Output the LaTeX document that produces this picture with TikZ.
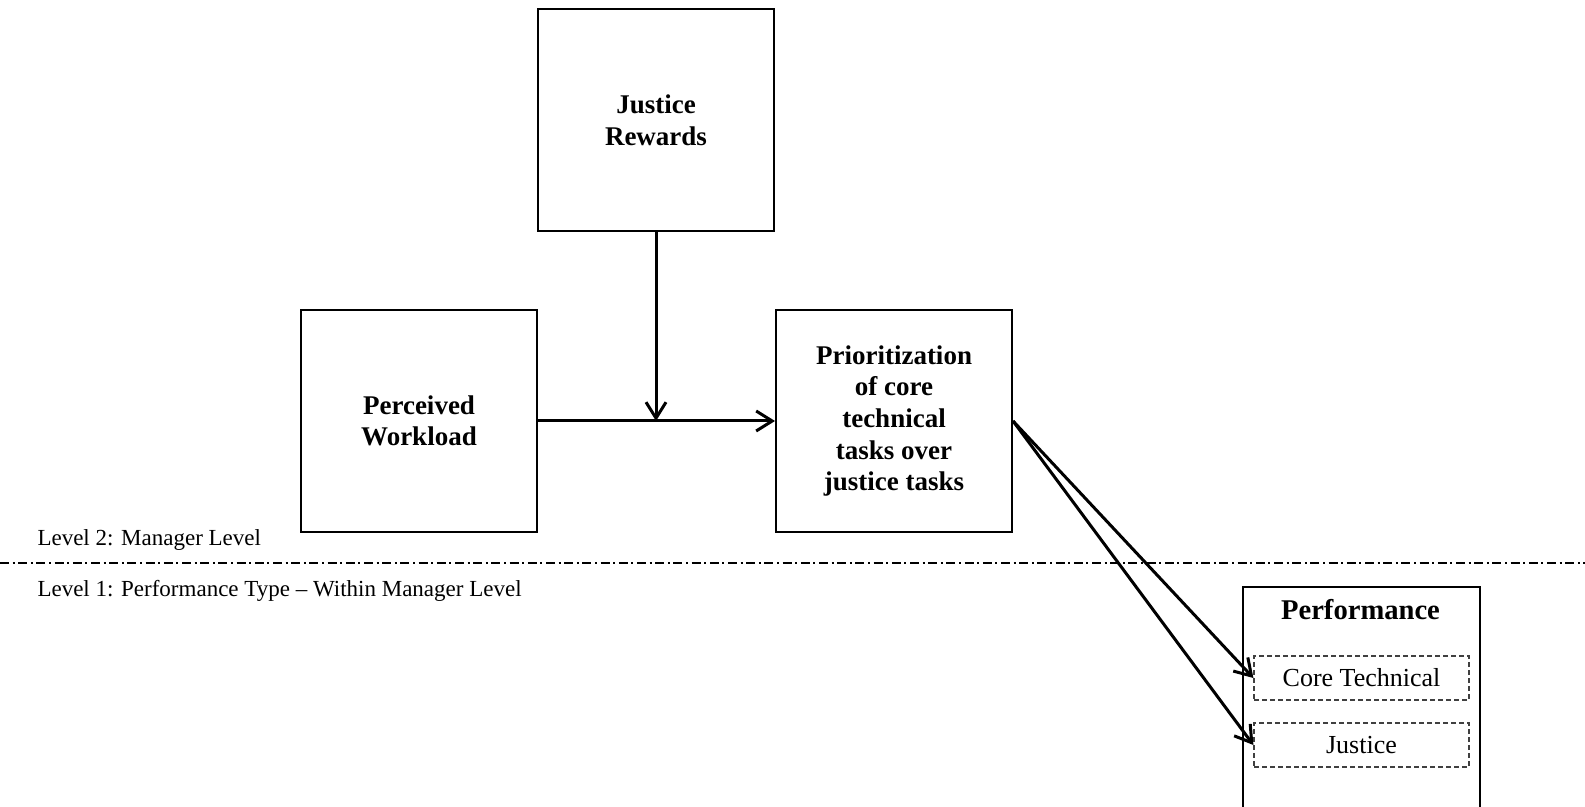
\documentclass[tikz,border=0pt]{standalone}
\usepackage{fontspec}
\setmainfont{Liberation Serif}
\usetikzlibrary{arrows.meta}
\usetikzlibrary{positioning}

\begin{document}
\begin{tikzpicture}[x=0.5pt,y=-0.5pt,->,>={Straight Barb[length=8pt,width=10pt]},line width=1.5pt]
	\tikzstyle{var}=[draw, rectangle, line width=1pt, minimum width=118pt, minimum height=111pt, inner sep=2pt, align=center, font=\fontsize{13.5}{15.8}\selectfont\bfseries]
	\tikzstyle{perfpart}=[draw=black!75, dashed, dash pattern=on 2.5pt off 1.5pt, line width=0.6pt, minimum width=107.5pt, minimum height=22pt, inner sep=0pt, font=\fontsize{13}{15}\selectfont]
	\tikzstyle{lvl}=[anchor=west, inner sep=0pt, font=\fontsize{11.5}{13}\selectfont]
	\useasboundingbox (0,0) rectangle (1585,807);
	\clip (0,0) rectangle (1585,807);

	\node[var] 	(perc) at (419,421) 		{Perceived\\Workload};
	\node[var] 	(prio) [right=118.5pt of perc] 	{Prioritization\\of core\\technical\\tasks over\\justice tasks};
	\node[var] 	(jr) at (656,120) 		{Justice\\Rewards};

	% performance (level 1)
	\node[draw, -, line width=1pt, minimum width=118.5pt, minimum height=130pt, anchor=north west, inner sep=0pt] (perfbox) at (1242,586) {};
	\node[font=\fontsize{14.3}{17}\selectfont\bfseries, inner sep=0pt] (perf) at (1360.5,610) {Performance};
	\node[perfpart] (core) at (1361.5,678) {Core Technical};
	\node[perfpart] (just) at (1361.5,745) {Justice};

	\coordinate (mod) at (jr.south |- perc.east);

	\path
		(perc) edge (prio)
		(jr) edge (mod)
		(prio.east) edge (core.west)
		(prio.east) edge (just.west);

	% levels
	\draw[-, line width=0.8pt, dash pattern=on 4.5pt off 1.8pt on 1pt off 1.8pt] (0,563) -- (1585,563);
	\node[lvl] (lvltwo) at (36,540) {Level 2: Manager\ Level};
	\node[lvl] (lvlone) at (36,591) {Level 1: Performance Type – Within Manager Level};
\end{tikzpicture}
\end{document}
